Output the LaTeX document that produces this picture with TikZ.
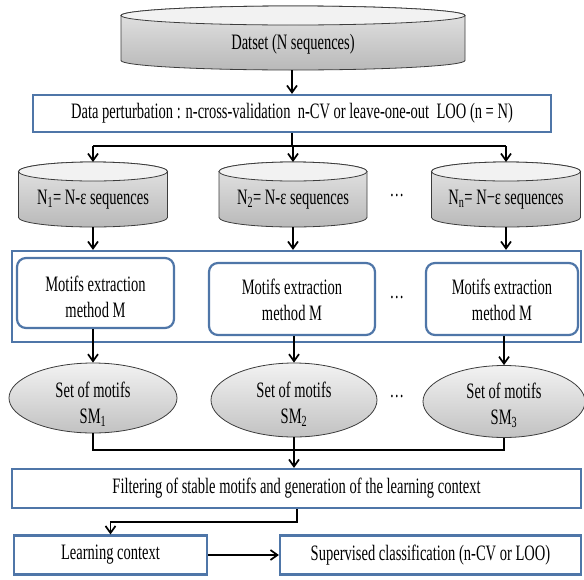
\documentclass[tikz,border=0pt]{standalone}
\usepackage{fontspec}
\setmainfont{Liberation Serif}[FakeStretch=0.66]
\usetikzlibrary{arrows.meta,calc,shapes.geometric}
\definecolor{bblue}{RGB}{79,118,168}
\definecolor{edge}{RGB}{60,60,60}
\tikzset{
 fnt/.style={font=\fontsize{22}{26}\selectfont},
 lbl/.style={fnt, inner sep=0pt, align=center},
 bbox/.style={rectangle, draw=bblue, line width=2.2pt, fill=white, inner sep=0pt, align=center, fnt},
 rbox/.style={rectangle, draw=bblue, line width=2.2pt, rounded corners=9pt, fill=white, inner sep=0pt, align=center, fnt},
 arr/.style={line width=1.6pt, -{Straight Barb[length=7pt,width=10pt,line width=1.7pt]}},
 ln/.style={line width=1.6pt},
 cylshade/.style={top color=gray!20, bottom color=gray!55, draw=edge, line width=0.8pt},
 cyltop/.style={fill=gray!10, draw=edge, line width=0.8pt},
 ell/.style={ellipse, draw=edge, top color=gray!10, bottom color=gray!48, line width=0.8pt, inner sep=0pt},
 dotsn/.style={fnt, inner sep=0pt},
}
% #1 name, #2 cx, #3 ytop (px, downward), #4 width, #5 height, #6 text, #7 text shift
\newcommand{\mycyl}[7]{%
 \pgfmathsetmacro\cylrx{#4/2}%
 \pgfmathsetmacro\cylry{9.5}%
 \shade[cylshade] (#2-\cylrx,-#3-\cylry) -- (#2-\cylrx,-#3-#5+\cylry)
   arc[start angle=180,end angle=360,x radius=\cylrx,y radius=\cylry]
   -- (#2+\cylrx,-#3-\cylry)
   arc[start angle=0,end angle=180,x radius=\cylrx,y radius=\cylry] -- cycle;
 \draw[cyltop] (#2,-#3-\cylry) ellipse[x radius=\cylrx,y radius=\cylry];
 \node[minimum width=#4,minimum height=#5,inner sep=0pt,outer sep=0pt] (#1) at (#2,-#3-#5/2) {};
 \node[lbl] (#1t) at (#2,-#3-#5/2-#7) {#6};
}
\begin{document}
\begin{tikzpicture}[x=1pt,y=1pt]
\useasboundingbox (0,0) rectangle (584,-579);

% top dataset cylinder
\mycyl{d0}{293}{6}{344}{64}{Datset (N sequences)}{6}

% perturbation
\node[bbox, minimum width=518, minimum height=37] (pert) at (292,-113.5)
 {Data perturbation : n-cross-validation\, n-CV or leave-one-out\, LOO (n = N)};

% subsets
\mycyl{c1}{93}{162}{149}{65}{N\textsubscript{1}= N-ε sequences}{5}
\mycyl{c2}{293}{162}{148}{65}{N\textsubscript{2}= N-ε sequences}{5}
\mycyl{c3}{506}{162}{149}{65}{N\textsubscript{n}= N−ε sequences}{5}
\node[dotsn] (dt1) at (397,-196) {\dots};

% group box
\node[rectangle, draw=bblue, line width=2.2pt, minimum width=569, minimum height=91, inner sep=0pt] (grp) at (296.5,-296.5) {};
\node[rbox, minimum width=157, minimum height=70] (m1) at (95.5,-293) {};
\node[rbox, minimum width=166, minimum height=72] (m2) at (292,-299) {};
\node[rbox, minimum width=152, minimum height=72] (m3) at (502,-299) {};
\node[lbl] (m1t) at ([yshift=-4pt]m1.center) {Motifs extraction\\method M};
\node[lbl] (m2t) at ([yshift=-1pt]m2.center) {Motifs extraction\\method M};
\node[lbl] (m3t) at ([yshift=-1pt]m3.center) {Motifs extraction\\method M};
\node[dotsn] (dt2) at (397,-298) {\dots};

% sets of motifs
\node[ell, minimum width=168, minimum height=70] (e1) at (93,-398) {};
\node[ell, minimum width=166, minimum height=74] (e2) at (294,-400) {};
\node[ell, minimum width=162, minimum height=72] (e3) at (504,-401.5) {};
\node[lbl] (e1t) at ([yshift=-6pt]e1.center) {Set of motifs\\SM\textsubscript{1}};
\node[lbl] (e2t) at ([yshift=-4pt]e2.center) {Set of motifs\\SM\textsubscript{2}};
\node[lbl] (e3t) at ([yshift=-4pt]e3.center) {Set of motifs\\SM\textsubscript{3}};
\node[dotsn] (dt3) at (397,-397) {\dots};

% filtering
\node[bbox, minimum width=569, minimum height=39] (filt) at (296.5,-488.5)
 {Filtering of stable motifs and generation of the learning context};
\node[bbox, minimum width=193, minimum height=39] (learn) at (110.5,-555)
 {Learning context};
\node[bbox, minimum width=301, minimum height=39] (sup) at (430.5,-555)
 {Supervised classification (n-CV or LOO)};

% connectors
\draw[arr] (d0.south -| pert.north) -- (pert.north);
\coordinate (bar1) at (292,-146);
\draw[ln] (pert.south) -- (bar1);
\draw[ln] (c1.north |- bar1) -- (c3.north |- bar1);
\draw[arr] (c1.north |- bar1) -- (c1.north);
\draw[arr] (c2.north |- bar1) -- (c2.north);
\draw[arr] (c3.north |- bar1) -- (c3.north);
\draw[arr] (c1.south) -- (c1.south |- grp.north);
\draw[arr] (c2.south) -- (c2.south |- grp.north);
\draw[arr] (c3.south) -- (c3.south |- grp.north);
\draw[arr] (e1.north |- m1.south) -- (e1.north);
\draw[arr] (e2.north |- m2.south) -- (e2.north);
\draw[arr] (e3.north |- m3.south) -- (e3.north);
\coordinate (bar2) at (294,-450);
\draw[ln] (e1.south) -- (e1.south |- bar2) -- (e3.south |- bar2) -- (e3.south);
\draw[arr] (e2.south) -- (e2.south |- filt.north);
\coordinate (turn) at (297,-522);
\draw[arr] (turn |- filt.south) -- (turn) -| (learn.north);
\draw[arr] (learn.east) -- (sup.west);
\end{tikzpicture}
\end{document}
